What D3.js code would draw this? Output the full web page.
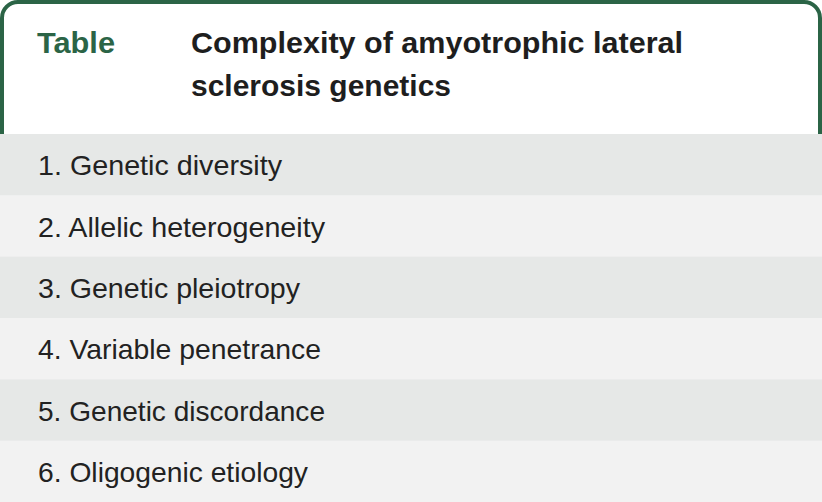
<!DOCTYPE html>
<html><head><meta charset="utf-8">
<script src="https://cdn.jsdelivr.net/npm/d3@7"></script>
<style>html,body{margin:0;padding:0;background:#fff;}svg{display:block;}</style>
</head><body>
<script>
const tableLabel = "Table";
const titleLines = ["Complexity of amyotrophic lateral", "sclerosis genetics"];
const rowItems = ["1. Genetic diversity", "2. Allelic heterogeneity", "3. Genetic pleiotropy",
  "4. Variable penetrance", "5. Genetic discordance", "6. Oligogenic etiology"];

const W = 822, H = 502, headerH = 134, green = "#2b6446";
const svg = d3.select("body").append("svg").attr("width", W).attr("height", H);

const y = d3.scaleBand().domain(d3.range(rowItems.length)).range([headerH, H]).padding(0);

// header box with rounded top corners
const bw = 4, r = 16;
const p = d3.path();
p.moveTo(bw/2, headerH + 2);
p.lineTo(bw/2, r + bw/2);
p.arcTo(bw/2, bw/2, r + bw/2, bw/2, r);
p.lineTo(W - bw/2 - r, bw/2);
p.arcTo(W - bw/2, bw/2, W - bw/2, r + bw/2, r);
p.lineTo(W - bw/2, headerH + 2);
svg.append("path").attr("d", p.toString()).attr("fill", "#fff")
  .attr("stroke", green).attr("stroke-width", bw);

// rows
const rows = svg.append("g").selectAll("g").data(rowItems).join("g");
rows.append("rect").attr("x", 0).attr("width", W)
  .attr("y", (d, i) => y(i)).attr("height", y.bandwidth() + 0.5)
  .attr("fill", (d, i) => i % 2 === 0 ? "#e6e8e7" : "#f2f2f2");
const targetW = [244, 287, 262, 283, 287, 270];
rows.append("text").attr("x", 38).attr("y", (d, i) => y(i) + y.bandwidth()/2 + 10.5)
  .attr("font-family", "'Liberation Sans', Arial, sans-serif").attr("font-size", 28)
  .attr("fill", "#222").text(d => d)
  .attr("textLength", (d, i) => targetW[i]).attr("lengthAdjust", "spacingAndGlyphs");

// header texts
svg.append("text").attr("x", 37).attr("y", 53)
  .attr("font-family", "'Liberation Sans', Arial, sans-serif").attr("font-weight", "bold")
  .attr("font-size", 30).attr("fill", green).text(tableLabel)
  .attr("textLength", 78).attr("lengthAdjust", "spacingAndGlyphs");
const titleW = [492, 260];
svg.append("g").selectAll("text").data(titleLines).join("text")
  .attr("x", 191).attr("y", (d, i) => 53 + i * 43)
  .attr("font-family", "'Liberation Sans', Arial, sans-serif").attr("font-weight", "bold")
  .attr("font-size", 30).attr("fill", "#1e1e1e").text(d => d)
  .attr("textLength", (d, i) => titleW[i]).attr("lengthAdjust", "spacingAndGlyphs");
</script>
</body></html>
